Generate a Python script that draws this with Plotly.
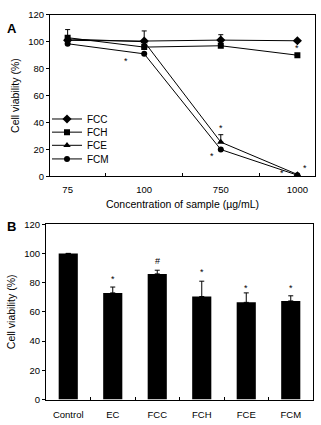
import plotly.graph_objects as go

W, H = 321, 425

# Panel A data
conc = ["75", "100", "750", "1000"]
fcc = [101, 100.5, 101.2, 100.7]
fch = [103, 96, 97, 90]
fce = [102, 100, 25.5, 1.5]
fcm = [98.5, 91, 20, 1]
fcc_err = [0, 0, 4, 0]
fch_err = [6, 0, 0, 0]
fce_err = [0, 8, 5.5, 0]
fcm_err = [0, 0, 0, 0]

# significance marks panel A: (category position, y)
sigA_x = [0.76, 2.0, 1.88, 3.0, 3.1, 2.8]
sigA_y = [85.5, 36, 15, 95, 6.5, 2.5]

# Panel B data
groups = ["Control", "EC", "FCC", "FCH", "FCE", "FCM"]
viab = [100, 73, 86, 70.5, 66.5, 67.5]
viab_err = [0, 4, 2.5, 10.5, 6.5, 3.5]
sigB = ["", "*", "#", "*", "*", "*"]
sigB_y = [0, 82.5, 95, 87.5, 76.5, 76.5]

FONT = "Liberation Sans, Arial, sans-serif"
fig = go.Figure()

series = [("FCC", fcc, fcc_err, "diamond", 7),
          ("FCH", fch, fch_err, "square", 6),
          ("FCE", fce, fce_err, "triangle-up", 6.5),
          ("FCM", fcm, fcm_err, "circle", 6)]
legend_ids = ["legend", "legend2", "legend3", "legend4"]
legend_centers_px = [116, 129.5, 143, 157]
for (name, ys, err, sym, sz), lid in zip(series, legend_ids):
    fig.add_trace(go.Scatter(
        x=conc, y=ys, name=name, mode="lines+markers",
        line=dict(color="black", width=1),
        marker=dict(symbol=sym, size=sz, color="black"),
        error_y=dict(type="data", symmetric=False, array=err,
                     arrayminus=[0] * len(err), color="black",
                     thickness=1, width=2.5),
        legend=lid, xaxis="x", yaxis="y"))

fig.add_trace(go.Bar(
    x=groups, y=viab, marker=dict(color="black", line=dict(width=0)),
    error_y=dict(type="data", symmetric=False, array=viab_err,
                 arrayminus=[0] * len(viab_err), color="black",
                 thickness=1, width=2.5),
    showlegend=False, xaxis="x2", yaxis="y2", width=0.43))

ann = []
for sx, sy in zip(sigA_x, sigA_y):
    ann.append(dict(x=sx, y=sy, xref="x", yref="y", text="*", showarrow=False,
                    font=dict(size=9, color="black", family=FONT)))
for g, s, sy in zip(groups, sigB, sigB_y):
    if s:
        ann.append(dict(x=g, y=sy, xref="x2", yref="y2", text=s, showarrow=False,
                        font=dict(size=9, color="black", family=FONT)))
ann.append(dict(x=5 / W, y=1 - 13 / H, xref="paper", yref="paper", text="<b>A</b>",
                showarrow=False, xanchor="left", font=dict(size=13, color="black", family=FONT)))
ann.append(dict(x=5 / W, y=1 - 226 / H, xref="paper", yref="paper", text="<b>B</b>",
                showarrow=False, xanchor="left", font=dict(size=13, color="black", family=FONT)))

axis_common = dict(showline=True, linecolor="black", linewidth=1, mirror=True,
                   showgrid=False, zeroline=False,
                   tickfont=dict(size=9.5, color="black", family=FONT))

layout = dict(
    width=W, height=H, margin=dict(l=0, r=0, t=0, b=0),
    paper_bgcolor="white", plot_bgcolor="white",
    font=dict(family=FONT, color="black"),
    xaxis=dict(domain=[50 / W, 315 / W], anchor="y", type="category",
               ticks="inside", tickson="boundaries", ticklen=3, tickcolor="black",
               ticklabelstandoff=4,
               title=dict(text="Concentration of sample (µg/mL)", font=dict(size=10.5), standoff=6),
               **axis_common),
    yaxis=dict(domain=[1 - 175 / H, 1 - 9 / H], anchor="x", range=[0, 120], dtick=20,
               ticks="outside", ticklen=3, tickcolor="black",
               title=dict(text="Cell viability (%)", font=dict(size=10.5), standoff=6),
               **axis_common),
    xaxis2=dict(domain=[46 / W, 313 / W], anchor="y2", type="category",
                ticks="inside", tickson="boundaries", ticklen=3, tickcolor="black",
                ticklabelstandoff=6,
                **axis_common),
    yaxis2=dict(domain=[1 - 404 / H, 1 - 224 / H], anchor="x2", range=[0, 120], dtick=20,
                ticks="outside", ticklen=3, tickcolor="black",
                title=dict(text="Cell viability (%)", font=dict(size=10.5), standoff=6),
                **axis_common),
    annotations=ann,
)
for lid, cy in zip(legend_ids, legend_centers_px):
    layout[lid] = dict(x=47 / W, y=1 - cy / H, xanchor="left", yanchor="middle",
                       bgcolor="rgba(0,0,0,0)", font=dict(size=10, family=FONT),
                       itemwidth=30)
fig.update_layout(**layout)

fig.write_html("out.html")
